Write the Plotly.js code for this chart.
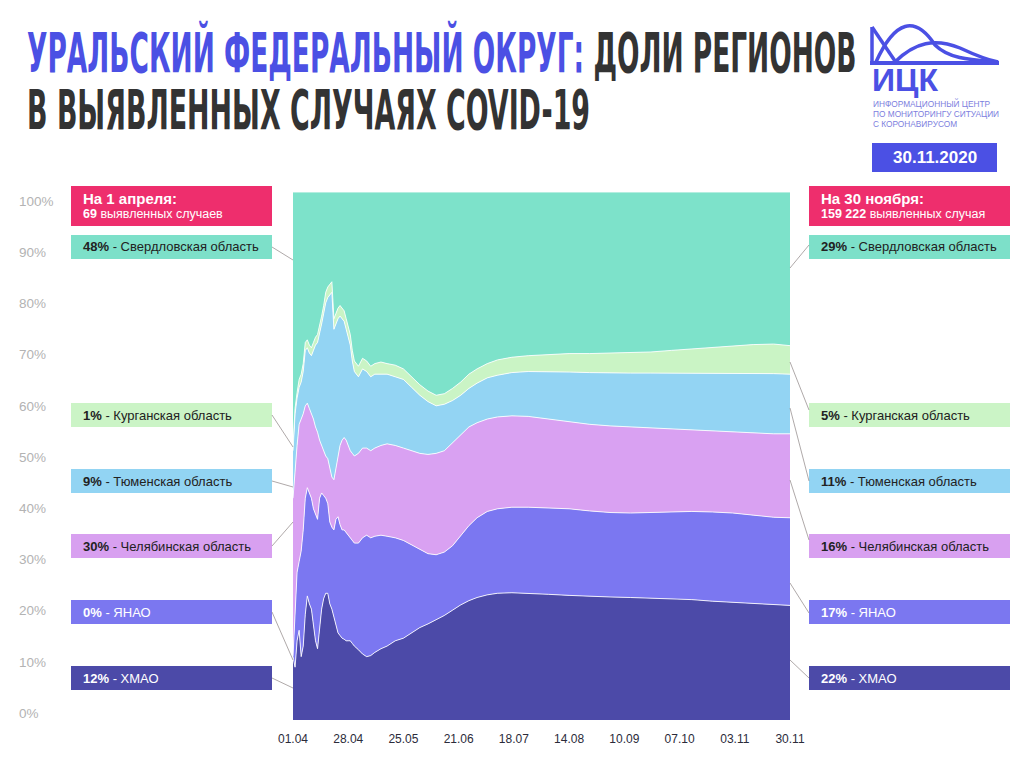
<!DOCTYPE html>
<html><head><meta charset="utf-8">
<script src="https://cdn.plot.ly/plotly-3.0.1.min.js"></script>
<style>html,body{margin:0;padding:0;background:#fff;} #chart{width:1024px;height:768px;}</style>
</head><body><div id="chart"></div>
<script>
// ---- DATA ----
const dates = [
 '2020-04-01','2020-04-02','2020-04-03','2020-04-04','2020-04-05','2020-04-06','2020-04-07','2020-04-08','2020-04-09','2020-04-10',
 '2020-04-11','2020-04-12','2020-04-13','2020-04-14','2020-04-15','2020-04-16','2020-04-17','2020-04-18','2020-04-19','2020-04-20',
 '2020-04-21','2020-04-22','2020-04-23','2020-04-24','2020-04-25','2020-04-26','2020-04-27','2020-04-28','2020-04-29','2020-04-30',
 '2020-05-01',
 '2020-05-03','2020-05-05','2020-05-07','2020-05-09','2020-05-11','2020-05-14','2020-05-17','2020-05-21','2020-05-25','2020-05-29',
 '2020-06-02','2020-06-06','2020-06-10','2020-06-14','2020-06-18','2020-06-22','2020-06-26','2020-06-30','2020-07-05','2020-07-10',
 '2020-07-17','2020-07-25','2020-08-04','2020-08-14','2020-08-24','2020-09-03','2020-09-13','2020-09-23','2020-10-03','2020-10-13',
 '2020-10-23','2020-11-02','2020-11-12','2020-11-22','2020-11-30'
];
const khmao = [12,10,15,17,12,14,20,23.5,22,21, 18,15,13.5,17,21,23,24,24,22,21, 19.5,18,16.5,16,15.5,15.3,15,15,15,14.5, 14,
 13.3,12.5,12,12.2,12.8, 13.5,14,15,15.5,16.5, 17.5,18.2,19,19.8,20.8, 21.8,22.6,23.2,23.7,24, 24.1,24,23.8,23.6,23.4, 23.3,23.2,23.1,23,22.8, 22.5,22.3,22,21.8,21.7];
const yanao = [0,10,13,13,20,22,22,20.5,21,21, 22,24,24.5,25,22,19.5,18,17,15.5,15.5, 16.5,20,22,21,20.5,20.7,20.5,20,19.5,19.5, 19.5,
 20.2,22,23,22.3,22, 21.5,20.8,19.5,18.5,16.7, 14.8,13.3,12.3,12,12.2, 13,14.2,15.1,15.8,16, 16.2,16.3,16.4,16.4,16.2, 16,16,16.2,16.4,16.7, 16.9,16.9,16.8,16.6,16.6];
const chel = [30,28,24,26,25,22,17.5,16,16,16, 17,16.5,16.5,11,9,8.5,8,8.5,10.5,9.5, 9.5,9.5,11.5,15,17,17.5,17.5,17,16.5,16.5, 16.5,
 17,17,16.5,16.5,16.7, 17,17.5,17.5,17.5,17.8, 18.2,18.8,19.2,19.2,19.5, 19.2,18.7,18,17.5,17.4, 17.3,17.2,16.8,16.5,16.4, 16.4,16.3,16.1,15.8,15.5, 15.4,15.4,15.5,15.8,15.9];
const tyumen = [9,10,9,7,7,8,10.5,10.5,10.5,11, 13,15.5,17,20,23,26,29,30.5,32.5,35, 28.5,27.5,26,24.5,23,22,21,20.5,20,17.5, 16,
 14.5,15,14.5,14,14, 13.5,13.2,13,13,12, 11,10,9,8.8,8, 7.5,7.3,7.5,7.8,7.9, 8.2,8.5,9,9.4,9.8, 10,10.2,10.3,10.5,10.6, 10.8,11,11.3,11.4,11.3];
const kurgan = [1,1,1,1.5,1.5,1.5,1.5,1.5,1.5,1.5, 1.5,1.5,1.5,1.5,1.5,1.5,2,2,2,2, 2,2,2,2,2,2,2,2,2,2, 2,
 2,2,2,2,2, 2.3,2,2.2,2,2, 2,2,2,2,2.3, 2.5,2.7,2.7,2.7,2.9, 2.9,3,3.2,3.5,3.6, 3.8,3.9,4,4.3,4.7, 5,5.3,5.5,5.6,5.4];
const sverd = [48,41,38,35.5,34.5,32.5,28.5,28,29,29.5, 28.5,27.5,27,25.5,23.5,21.5,19,18,17.5,17, 24,23,22,21.5,22,22.5,24,25.5,27,30, 32,
 33,31.5,32,33,32.5, 32.2,32.5,32.8,33.5,35, 36.5,37.7,38.5,38.2,37.2, 36,34.5,33.5,32.5,31.8, 31.3,31,30.8,30.6,30.6, 30.5,30.4,30.3,30,29.7, 29.4,29.1,28.9,28.8,29.1];

const regionNames = ['ХМАО','ЯНАО','Челябинская область','Тюменская область','Курганская область','Свердловская область'];
const startShares = [12, 0, 30, 9, 1, 48];       // на 1 апреля
const endShares   = [22, 17, 16, 11, 5, 29];     // на 30 ноября
const startCases = '69';
const endCases = '159 222';
const yTickVals = [0,10,20,30,40,50,60,70,80,90,100];
const xTickVals = ['2020-04-01','2020-04-28','2020-05-25','2020-06-21','2020-07-18','2020-08-14','2020-09-10','2020-10-07','2020-11-03','2020-11-30'];
const xTickText = ['01.04','28.04','25.05','21.06','18.07','14.08','10.09','07.10','03.11','30.11'];

// ---- STYLE ----
const fills = ['#4c4aa8','#7b77f1','#d9a1f2','#93d4f3','#caf4c5','#7de2ca'];
const boxFills = ['#4c4aa8','#7b77f0','#d8a0f0','#92d4f3','#cbf4c6','#7de0c9'];
const boxText = ['#ffffff','#ffffff','#222222','#222222','#222222','#222222'];
const W = 1024, H = 768;
const px = x => x / W, py = y => 1 - y / H;
const FONT = 'Liberation Sans, Arial, Helvetica, sans-serif';
const TFONT = 'Liberation Sans Narrow, DejaVu Sans Condensed, Arial Narrow, sans-serif';
const BLUE = '#4b50e4';

const series = [khmao, yanao, chel, tyumen, kurgan, sverd];
const traces = series.map((v, i) => ({
  type: 'scatter', mode: 'lines', x: dates, y: v, stackgroup: 'one',
  name: regionNames[i], fillcolor: fills[i],
  line: {color: 'rgba(255,255,255,0.85)', width: 1},
  hoverinfo: 'skip'
}));
traces.push({type: 'scatter', x: [], y: [], yaxis: 'y2', showlegend: false, hoverinfo: 'skip'});

const shapes = [];
const annotations = [];

// title (index 0,1)
annotations.push({xref:'paper', yref:'paper', x: px(25), y: py(52), xanchor:'left', yanchor:'middle', showarrow:false,
  text: '<span style="color:' + BLUE + '">УРАЛЬСКИЙ ФЕДЕРАЛЬНЫЙ ОКРУГ:</span> ДОЛИ РЕГИОНОВ',
  font: {family: TFONT, size: 36, color: '#333333', weight: 700}});
annotations.push({xref:'paper', yref:'paper', x: px(25), y: py(110), xanchor:'left', yanchor:'middle', showarrow:false,
  text: 'В ВЫЯВЛЕННЫХ СЛУЧАЯХ COVID-19',
  font: {family: TFONT, size: 36, color: '#333333', weight: 700}});
const titleScale = [[0.817, 1.55], [0.83, 1.52]];

// logo
shapes.push({type:'line', xref:'paper', yref:'paper', x0: px(872), y0: py(27), x1: px(872), y1: py(63), line:{color: BLUE, width: 3.5}});
shapes.push({type:'line', xref:'paper', yref:'paper', x0: px(872), y0: py(27), x1: px(895), y1: py(61), line:{color: BLUE, width: 3.5}});
shapes.push({type:'path', xref:'paper', yref:'paper',
  path: 'M' + px(876) + ',' + py(62) + ' C' + px(895) + ',' + py(20) + ' ' + px(915) + ',' + py(15) + ' ' + px(935) + ',' + py(45) +
        ' C' + px(950) + ',' + py(60) + ' ' + px(975) + ',' + py(60) + ' ' + px(998) + ',' + py(62),
  line: {color: BLUE, width: 3.5}});
shapes.push({type:'path', xref:'paper', yref:'paper',
  path: 'M' + px(895) + ',' + py(62) + ' C' + px(915) + ',' + py(42) + ' ' + px(935) + ',' + py(38) + ' ' + px(960) + ',' + py(48) +
        ' C' + px(975) + ',' + py(55) + ' ' + px(988) + ',' + py(60) + ' ' + px(998) + ',' + py(62),
  line: {color: BLUE, width: 3.5}});
shapes.push({type:'line', xref:'paper', yref:'paper', x0: px(870), x1: px(999), y0: py(63), y1: py(63), line:{color: BLUE, width: 4}});
annotations.push({xref:'paper', yref:'paper', x: px(870), y: py(80), xanchor:'left', yanchor:'middle', showarrow:false,
  text:'<b>ИЦК</b>', font:{family: FONT, size: 32, color: BLUE}});
['ИНФОРМАЦИОННЫЙ ЦЕНТР','ПО МОНИТОРИНГУ СИТУАЦИИ','С КОРОНАВИРУСОМ'].forEach((t, i) => {
  annotations.push({xref:'paper', yref:'paper', x: px(871), y: py(104 + i * 10), xanchor:'left', yanchor:'middle', showarrow:false,
    text: t, font:{family: FONT, size: 8.3, color: '#7d80de'}});
});
shapes.push({type:'rect', xref:'paper', yref:'paper', x0: px(872), x1: px(997), y0: py(143), y1: py(172), fillcolor: BLUE, line:{width:0}});
annotations.push({xref:'paper', yref:'paper', x: px(934.5), y: py(157.5), xanchor:'center', yanchor:'middle', showarrow:false,
  text:'<b>30.11.2020</b>', font:{family: FONT, size: 17, color: '#ffffff'}});

// header boxes
const PINK = '#ee2e6d';
[[71, 272, 'На 1 апреля:', startCases, 'выявленных случаев'], [809, 1010, 'На 30 ноября:', endCases, 'выявленных случая']].forEach(h => {
  shapes.push({type:'rect', xref:'paper', yref:'paper', x0: px(h[0]), x1: px(h[1]), y0: py(186), y1: py(226), fillcolor: PINK, line:{width:0}});
  annotations.push({xref:'paper', yref:'paper', x: px(h[0] + 10), y: py(199), xanchor:'left', yanchor:'middle', showarrow:false,
    text: '<b>' + h[2] + '</b>', font:{family: FONT, size: 15, color:'#ffffff'}});
  annotations.push({xref:'paper', yref:'paper', x: px(h[0] + 10), y: py(214), xanchor:'left', yanchor:'middle', showarrow:false,
    text: '<b>' + h[3] + '</b> ' + h[4], font:{family: FONT, size: 12.5, color:'#ffffff'}});
});

// region label boxes (index into series: 5 sverd ... 0 khmao)
const rowY = {5: 247, 4: 415, 3: 481, 2: 546, 1: 612, 0: 678};
const leftEnd = {5: 260, 4: 447, 3: 487, 2: 522, 1: 660, 0: 688};
const rightStart = {5: 268, 4: 362, 3: 408, 2: 480, 1: 583, 0: 660};
const rightBoxY = {5: 245, 4: 410, 3: 481, 2: 540, 1: 613, 0: 678};
[5,4,3,2,1,0].forEach(i => {
  const cy = rowY[i];
  [[71, 272, startShares[i]], [809, 1010, endShares[i]]].forEach(b => {
    shapes.push({type:'rect', xref:'paper', yref:'paper', x0: px(b[0]), x1: px(b[1]), y0: py(cy - 12), y1: py(cy + 12),
      fillcolor: boxFills[i], line:{width:0}});
    annotations.push({xref:'paper', yref:'paper', x: px(b[0] + 10), y: py(cy), xanchor:'left', yanchor:'middle', showarrow:false,
      text: '<b>' + b[2] + '%</b> - ' + regionNames[i], font:{family: FONT, size: 13, color: boxText[i]}});
  });
  shapes.push({type:'line', xref:'paper', yref:'paper', x0: px(272), y0: py(cy), x1: px(293), y1: py(leftEnd[i]),
    line:{color:'#9b9393', width: 0.8}});
  shapes.push({type:'line', xref:'paper', yref:'paper', x0: px(790), y0: py(rightStart[i]), x1: px(809), y1: py(rightBoxY[i]),
    line:{color:'#9b9393', width: 0.8}});
});

const layout = {
  width: W, height: H, margin: {l:0, r:0, t:0, b:0},
  paper_bgcolor: '#ffffff', plot_bgcolor: 'rgba(0,0,0,0)', showlegend: false,
  font: {family: FONT},
  xaxis: {type:'date', domain: [px(293), px(790)], range: ['2020-04-01','2020-11-30'],
    tickvals: xTickVals, ticktext: xTickText, ticks:'outside', ticklen: 8, tickcolor:'rgba(0,0,0,0)',
    showgrid:false, zeroline:false, showline:false,
    tickfont: {family: FONT, size: 12, color:'#2b2b3a'}},
  yaxis: {domain: [py(720), py(192)], range: [0, 100], showticklabels:false, showgrid:false, zeroline:false, ticks:''},
  yaxis2: {overlaying:'y', anchor:'free', position: px(18), side:'right', range:[-1.367, 101.758],
    tickvals: yTickVals, ticktext: yTickVals.map(v => v + '%'), ticklabelposition:'outside',
    showgrid:false, zeroline:false, showline:false, ticks:'',
    tickfont: {family: FONT, size: 13.5, color:'#b3b3b3'}},
  shapes: shapes, annotations: annotations
};

Plotly.newPlot('chart', traces, layout, {staticPlot: true}).then(gd => {
  [0, 1].forEach(i => {
    const t = gd.querySelector('.annotation[data-index="' + i + '"] text');
    if (t) {
      t.style.transformBox = 'fill-box';
      t.style.transformOrigin = '0% 50%';
      t.style.transform = 'scale(' + titleScale[i][0] + ',' + titleScale[i][1] + ')';
    }
  });
});
</script></body></html>
